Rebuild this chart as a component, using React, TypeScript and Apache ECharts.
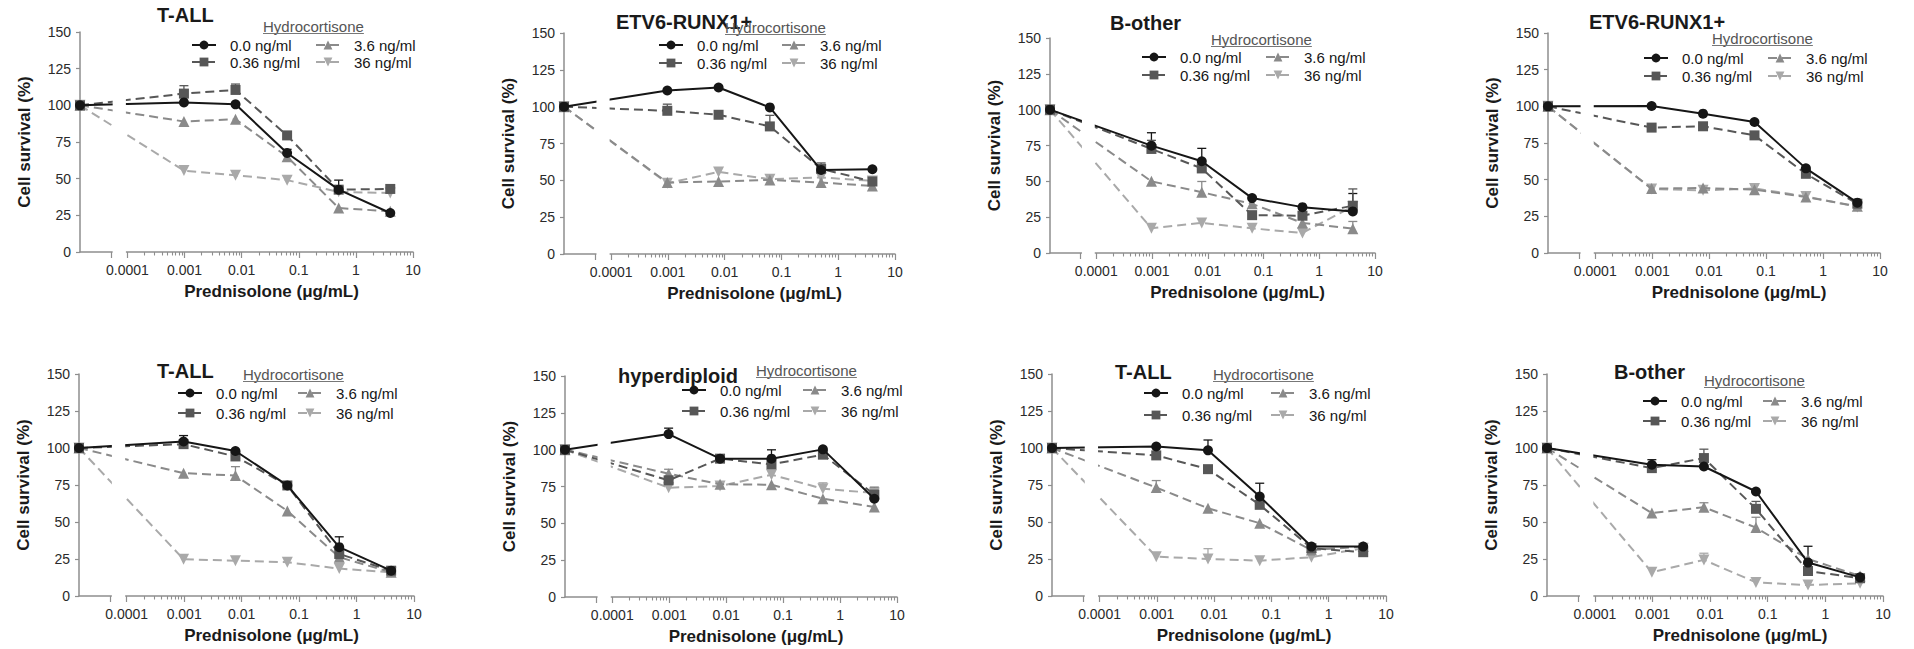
import React, { useEffect, useRef } from "react";
import * as echarts from "echarts";

const FONT = '"Liberation Sans", Arial, Helvetica, sans-serif';

// Prednisolone doses (µg/mL); 0 = untreated control (drawn at the left end of the axis)
const DOSES = [0, 0.0009765625, 0.0078125, 0.0625, 0.5, 4];
const SERIES_NAMES = ["0.0 ng/ml", "0.36 ng/ml", "3.6 ng/ml", "36 ng/ml"];
const PANEL_TITLES = ["T-ALL", "ETV6-RUNX1+", "B-other", "ETV6-RUNX1+", "T-ALL", "hyperdiploid", "T-ALL", "B-other"];
const X_LABEL_VALUES = [0.0001, 0.001, 0.01, 0.1, 1, 10];
const LEGEND_HEADER = "Hydrocortisone";
const X_NAME = "Prednisolone (\u03bcg/mL)";
const Y_NAME = "Cell survival (%)";

// Cell survival (%) — rows: hydrocortisone 0.0, 0.36, 3.6, 36 ng/ml; columns: DOSES
const P1_SURV = [
  [100, 102, 100.7, 67.5, 42.5, 26.6],
  [100, 108, 110.5, 79.5, 42.5, 43],
  [100, 89, 90.5, 65, 30, 27.7],
  [100, 55.5, 52.3, 49, 41, 40.2],
];
const P1_SEM = [
  [0, 0, 0, 2.5, 6.5, 0],
  [0, 5.4, 4, 0, 0, 0],
  [0, 0, 0, 0, 0, 0],
  [0, 0, 0, 3, 0, 0],
];
const P2_SURV = [
  [100, 111, 113, 99.5, 57, 57.5],
  [100, 97.2, 94.5, 86.6, 57.8, 49.2],
  [100, 48.5, 49.2, 50.3, 48.5, 46.2],
  [100, 48, 55.7, 50.8, 52, 49.6],
];
const P2_SEM = [
  [0, 0, 0, 0, 0, 0],
  [0, 4.5, 0, 7.5, 4, 0],
  [0, 0, 0, 0, 0, 0],
  [0, 0, 0, 0, 0, 0],
];
const P3_SURV = [
  [100, 74.9, 64, 38.3, 32, 29],
  [100, 72.6, 59, 26.4, 26, 33],
  [100, 50, 42.4, 34.3, 21, 17],
  [100, 17.2, 21, 17.2, 14, 32.5],
];
const P3_SEM = [
  [0, 9, 9, 0, 0, 12.5],
  [0, 6, 0, 0, 0, 11.7],
  [0, 0, 7.5, 0, 0, 5],
  [0, 0, 0, 0, 0, 0],
];
const P4_SURV = [
  [100, 100.2, 95, 89.3, 57.7, 34.3],
  [100, 85.5, 86.4, 80.2, 54, 33.6],
  [100, 43.9, 44.3, 43.2, 38.2, 31.8],
  [100, 43.6, 42.7, 44, 38.6, 31.4],
];
const P4_SEM = [
  [0, 0, 0, 0, 0, 0],
  [0, 0, 0, 0, 0, 0],
  [0, 0, 0, 0, 0, 0],
  [0, 0, 0, 2.5, 0, 0],
];
const P5_SURV = [
  [100, 104.4, 98, 74.7, 33, 17.1],
  [100, 102.6, 94.3, 74.7, 28.4, 17.1],
  [100, 83, 81.4, 57.5, 26.2, 16],
  [100, 24.8, 23.9, 22.8, 18.5, 16],
];
const P5_SEM = [
  [0, 4, 0, 0, 7, 0],
  [0, 0, 0, 0, 0, 0],
  [0, 0, 6, 0, 0, 0],
  [0, 0, 0, 0, 0, 0],
];
const P6_SURV = [
  [100, 110.6, 93.9, 93.9, 100.2, 66.7],
  [100, 79.2, 93.9, 90, 96.6, 69.5],
  [100, 83.7, 76.5, 76.2, 66.7, 61.1],
  [100, 74.2, 75.3, 83, 73.5, 70.6],
];
const P6_SEM = [
  [0, 4, 0, 6, 0, 0],
  [0, 0, 0, 0, 0, 5],
  [0, 3, 0, 0, 0, 0],
  [0, 0, 0, 0, 4, 0],
];
const P7_SURV = [
  [100, 101, 98.4, 67.2, 33.4, 33.4],
  [100, 95, 85.7, 61.6, 32.3, 29.6],
  [100, 73.3, 59.3, 49.2, 31, 33.4],
  [100, 26.6, 25, 23.9, 26.2, 32.3],
];
const P7_SEM = [
  [0, 0, 7, 9, 0, 0],
  [0, 0, 0, 0, 0, 0],
  [0, 4.7, 0, 0, 0, 0],
  [0, 0, 7, 0, 0, 0],
];
const P8_SURV = [
  [100, 88.7, 87.5, 70.6, 22.6, 12.6],
  [100, 86.4, 93.2, 58.9, 16.9, 12],
  [100, 56, 60, 46.2, 25, 13.5],
  [100, 16, 24.4, 9.2, 7.4, 8.6],
];
const P8_SEM = [
  [0, 3.4, 0, 0, 11, 0],
  [0, 0, 6, 5, 0, 0],
  [0, 0, 3, 7, 0, 0],
  [0, 0, 4.5, 0, 0, 0],
];

const PANEL_SURV = [P1_SURV, P2_SURV, P3_SURV, P4_SURV, P5_SURV, P6_SURV, P7_SURV, P8_SURV];
const PANEL_SEM = [P1_SEM, P2_SEM, P3_SEM, P4_SEM, P5_SEM, P6_SEM, P7_SEM, P8_SEM];

// ---- layout / styling (not data) ----
const X_MIN = 1.48e-5; // axis start, where the control (no prednisolone) is drawn
const X_MAX = 10;
const BREAK_AT = 5.2e-5; // end of the short control segment of the broken axis
const AXIS_COLOR = "#8e8e8e";
const LABEL_COLOR = "#2a2a2a";
const COLORS = ["#161616", "#575757", "#8a8a8a", "#a9a9a9"];
const SYMBOLS = ["circle", "rect", "triangle", "path://M0,0L20,0L10,17Z"];
const DASHED = [false, true, true, true];

// per panel: grid [left, top, width, height], title [x, centerY], header [x, centerY],
// left legend column [x, row1 centerY, row2 centerY], right legend column x
const LAYOUT = [
  { grid: [80, 32, 333, 220], title: [157, 16], hdr: [263, 26], legL: [191, 45, 62], legR: 315 },
  { grid: [564, 33, 331, 221], title: [616, 23], hdr: [725, 27], legL: [658, 45, 63], legR: 781 },
  { grid: [1050, 38, 325, 215], title: [1110, 24], hdr: [1211, 39], legL: [1141, 57, 75], legR: 1265 },
  { grid: [1548, 33, 332, 220], title: [1589, 23], hdr: [1712, 38], legL: [1643, 58, 76], legR: 1767 },
  { grid: [79, 374, 335, 222], title: [157, 372], hdr: [243, 374], legL: [177, 393, 413], legR: 297 },
  { grid: [565, 376, 332, 221], title: [618, 377], hdr: [756, 370], legL: [681, 390, 411], legR: 802 },
  { grid: [1052, 374, 334, 222], title: [1115, 373], hdr: [1213, 374], legL: [1143, 393, 415], legR: 1270 },
  { grid: [1547, 374, 336, 222], title: [1614, 373], hdr: [1704, 380], legL: [1642, 401, 421], legR: 1762 },
];

const MAJOR_TICKS = [BREAK_AT, 0.0001, 0.001, 0.01, 0.1, 1, 10];
const MINOR_TICKS: number[] = [];
for (const dec of [0.0001, 0.001, 0.01, 0.1, 1]) {
  for (let m = 2; m <= 9; m++) MINOR_TICKS.push(Number((dec * m).toPrecision(6)));
}

const xOf = (d: number) => (d === 0 ? X_MIN : d);

function errRender(color: string) {
  return (params: any, api: any) => {
    const x = api.value(0);
    const y = api.value(1);
    const e = api.value(2);
    const a = api.coord([x, y]);
    const b = api.coord([x, y + e]);
    return {
      type: "group",
      children: [
        { type: "line", shape: { x1: a[0], y1: a[1], x2: b[0], y2: b[1] }, style: { stroke: color, lineWidth: 1.3 } },
        { type: "line", shape: { x1: b[0] - 4.5, y1: b[1], x2: b[0] + 4.5, y2: b[1] }, style: { stroke: color, lineWidth: 1.3 } },
      ],
    };
  };
}

function measure(text: string, font: string) {
  const c = document.createElement("canvas").getContext("2d");
  if (!c) return 104;
  c.font = font;
  return c.measureText(text).width;
}

// horizontal pixel of an x value on a panel's log axis (same mapping as the axis uses)
function logPixel(i: number, v: number) {
  const [left, , width] = LAYOUT[i].grid;
  const lo = Math.log10(X_MIN);
  const hi = Math.log10(X_MAX);
  return left + (width * (Math.log10(v) - lo)) / (hi - lo);
}

function buildOption() {
  const grid: any[] = [];
  const xAxis: any[] = [];
  const yAxis: any[] = [];
  const series: any[] = [];
  const legend: any[] = [];
  const title: any[] = [];
  const graphicEls: any[] = [];
  const hdrW = measure(LEGEND_HEADER, `15px ${FONT}`);

  LAYOUT.forEach((L, i) => {
    const [left, top, width, height] = L.grid;
    grid.push({ left, top, width, height, containLabel: false });
    xAxis.push({
      type: "log",
      logBase: 10,
      gridIndex: i,
      position: "bottom",
      min: X_MIN,
      max: X_MAX,
      axisLine: { show: true, lineStyle: { color: AXIS_COLOR, width: 1.5 } },
      axisTick: { show: true, customValues: MAJOR_TICKS, length: 6, lineStyle: { color: AXIS_COLOR, width: 1.2 } },
      axisLabel: {
        customValues: X_LABEL_VALUES,
        formatter: (v: number) => String(Number(Number(v).toPrecision(4))),
        fontSize: 14,
        color: LABEL_COLOR,
        fontFamily: FONT,
        margin: 11,
      },
      splitLine: { show: false },
      name: X_NAME,
      nameLocation: "middle",
      nameGap: 31,
      nameTextStyle: { fontSize: 17, fontWeight: "bold", color: "#1a1a1a", fontFamily: FONT, padding: [0, 0, 0, 50] },
    });
    xAxis.push({
      type: "log",
      logBase: 10,
      gridIndex: i,
      position: "bottom",
      min: X_MIN,
      max: X_MAX,
      axisLine: { show: false },
      axisTick: { show: true, customValues: MINOR_TICKS, length: 3.5, lineStyle: { color: AXIS_COLOR, width: 1.1 } },
      axisLabel: { show: false },
      splitLine: { show: false },
    });
    yAxis.push({
      type: "value",
      gridIndex: i,
      min: 0,
      max: 150,
      interval: 25,
      axisLine: { show: true, lineStyle: { color: AXIS_COLOR, width: 1.5 } },
      axisTick: { show: true, length: 4, lineStyle: { color: AXIS_COLOR, width: 1.2 } },
      axisLabel: { fontSize: 14, color: LABEL_COLOR, fontFamily: FONT, margin: 9 },
      splitLine: { show: false },
      name: Y_NAME,
      nameLocation: "middle",
      nameGap: 47,
      nameTextStyle: { fontSize: 17, fontWeight: "bold", color: "#1a1a1a", fontFamily: FONT },
    });

    const surv = PANEL_SURV[i];
    const sem = PANEL_SEM[i];
    SERIES_NAMES.forEach((name, s) => {
      series.push({
        type: "line",
        name,
        xAxisIndex: 2 * i,
        yAxisIndex: i,
        data: DOSES.map((d, k) => [xOf(d), surv[s][k]]),
        symbol: SYMBOLS[s],
        symbolSize: s >= 2 ? 11 : 10,
        showSymbol: true,
        clip: false,
        z: 3 + (3 - s) * 0.1,
        lineStyle: { color: COLORS[s], width: 2, type: DASHED[s] ? [9, 5] : "solid" },
        itemStyle: { color: COLORS[s], borderWidth: 0 },
        emphasis: { disabled: true },
      });
      const errData = DOSES.map((d, k) => [xOf(d), surv[s][k], sem[s][k]]).filter((p) => p[2] > 0);
      if (errData.length) {
        series.push({
          type: "custom",
          xAxisIndex: 2 * i,
          yAxisIndex: i,
          data: errData,
          encode: { x: 0, y: 1 },
          renderItem: errRender(COLORS[s]),
          z: 2,
          silent: true,
        });
      }
    });

    const [lx, r1, r2] = L.legL;
    const gap = r2 - r1 - 15;
    const legCommon = {
      orient: "vertical",
      top: r1 - 7.5,
      itemGap: gap,
      itemWidth: 24,
      itemHeight: 11,
      padding: 0,
      selectedMode: false,
      formatter: (n: string) => `{t|${n}}`,
      textStyle: {
        fontSize: 15,
        color: "#161616",
        fontFamily: FONT,
        rich: { t: { fontSize: 15, color: "#161616", fontFamily: FONT, padding: [0, 0, 0, 9], lineHeight: 15 } },
      },
    };
    legend.push({ ...legCommon, left: lx, data: [SERIES_NAMES[0], SERIES_NAMES[1]] });
    legend.push({ ...legCommon, left: L.legR, data: [SERIES_NAMES[2], SERIES_NAMES[3]] });

    title.push({
      text: PANEL_TITLES[i],
      left: L.title[0],
      top: L.title[1] - 11,
      padding: 0,
      textStyle: { fontSize: 20, fontWeight: "bold", color: "#1a1a1a", fontFamily: FONT },
    });

    // white band that breaks the x axis (and the lines) between the control segment and 0.0001
    const xa = logPixel(i, BREAK_AT);
    const xb = logPixel(i, 0.0001);
    graphicEls.push({
      type: "rect",
      id: "gap" + i,
      z: 100,
      silent: true,
      shape: { x: xa + 1.5, y: top - 2, width: xb - xa - 3, height: height + 3.5 },
      style: { fill: "#ffffff" },
    });
    graphicEls.push({
      type: "text",
      id: "hdr" + i,
      z: 101,
      x: L.hdr[0],
      y: L.hdr[1],
      style: { text: LEGEND_HEADER, fontSize: 15, fontFamily: FONT, fill: "#555555", verticalAlign: "middle", align: "left" },
    });
    graphicEls.push({
      type: "line",
      id: "ul" + i,
      z: 101,
      shape: { x1: L.hdr[0], y1: L.hdr[1] + 7.5, x2: L.hdr[0] + hdrW, y2: L.hdr[1] + 7.5 },
      style: { stroke: "#777777", lineWidth: 1 },
    });
  });

  return {
    animation: false,
    backgroundColor: "#ffffff",
    textStyle: { fontFamily: FONT },
    title,
    legend,
    grid,
    xAxis,
    yAxis,
    series,
    graphic: { elements: graphicEls },
  };
}

export default function App() {
  const ref = useRef<HTMLDivElement>(null);
  useEffect(() => {
    if (!ref.current) return;
    const chart = echarts.init(ref.current, null, { renderer: "svg" });
    chart.setOption(buildOption() as any);
    return () => chart.dispose();
  }, []);

  return (
    <div
      ref={ref}
      style={{ position: "fixed", left: 0, top: 0, width: 1914, height: 649, background: "#ffffff" }}
    />
  );
}
